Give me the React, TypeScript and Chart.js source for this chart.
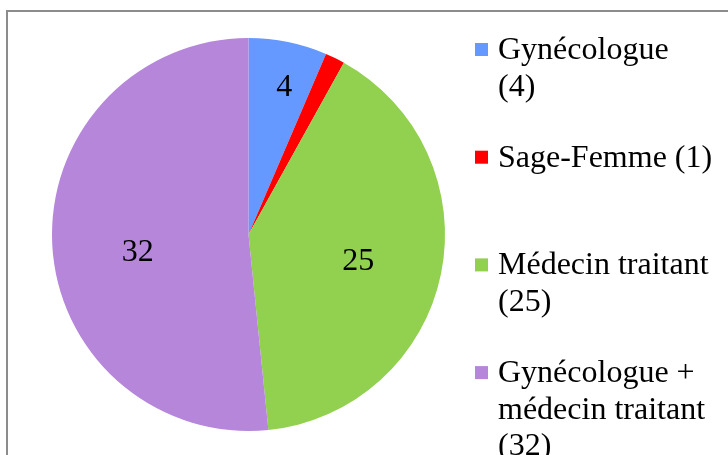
import React, { useEffect, useRef } from "react";
import { Chart, registerables } from "chart.js";

Chart.register(...registerables);

const categories = ["Gynécologue", "Sage-Femme", "Médecin traitant", "Gynécologue + médecin traitant"];
const values = [4, 1, 25, 32];
const legendLines = [
  ["Gynécologue", "(4)"],
  ["Sage-Femme (1)"],
  ["Médecin traitant", "(25)"],
  ["Gynécologue +", "médecin traitant", "(32)"],
];
const dataLabels = ["4", "", "25", "32"];

const colors = ["#6699FF", "#FF0000", "#92D050", "#B586D9"];
const labelRadiusFrac = [0.78, 0, 0.57, 0.57];
const labelNudgeX = [5, 0, 0, 1];
const labelNudgeY = [1, 0, 3, 10];
const FONT = "'Liberation Serif', 'Times New Roman', serif";

const labelPlugin = {
  id: "sliceLabels",
  afterDatasetsDraw(chart: any) {
    const ctx = chart.ctx;
    const meta = chart.getDatasetMeta(0);
    ctx.save();
    ctx.fillStyle = "#000";
    ctx.font = `32px ${FONT}`;
    ctx.textAlign = "center";
    ctx.textBaseline = "middle";
    meta.data.forEach((arc: any, i: number) => {
      const txt = dataLabels[i];
      if (!txt) return;
      const p = arc.getProps(["x", "y", "startAngle", "endAngle", "outerRadius"], true);
      const mid = (p.startAngle + p.endAngle) / 2;
      const r = p.outerRadius * labelRadiusFrac[i];
      ctx.fillText(txt, p.x + Math.cos(mid) * r + labelNudgeX[i], p.y + Math.sin(mid) * r + 2 + labelNudgeY[i]);
    });
    ctx.restore();
  },
};

const legendPlugin = {
  id: "customLegend",
  afterDraw(chart: any) {
    const ctx = chart.ctx;
    const meta = chart.getDatasetMeta(0);
    const markerX = 475;
    const markerSize = 13;
    const textX = 498;
    const firstBaseline = 59;
    const step = 107.7;
    const lineH = 36.5;
    ctx.save();
    ctx.font = `32px ${FONT}`;
    ctx.textAlign = "left";
    ctx.textBaseline = "alphabetic";
    legendLines.forEach((lines, i) => {
      const base = firstBaseline + step * i;
      ctx.fillStyle = meta.data[i].options.backgroundColor;
      ctx.fillRect(markerX, base - 16, markerSize, markerSize);
      ctx.fillStyle = "#000";
      lines.forEach((ln, j) => ctx.fillText(ln, textX, base + j * lineH));
    });
    ctx.restore();
  },
};

export default function App() {
  const ref = useRef<HTMLCanvasElement | null>(null);
  useEffect(() => {
    if (!ref.current) return;
    const chart = new Chart(ref.current, {
      type: "pie",
      data: {
        labels: categories,
        datasets: [
          {
            data: values,
            backgroundColor: colors,
            borderWidth: 0,
          },
        ],
      },
      options: {
        responsive: false,
        animation: false,
        devicePixelRatio: 1,
        layout: { padding: { left: 52, right: 283, top: 38, bottom: 24 } },
        plugins: {
          legend: { display: false },
          tooltip: { enabled: false },
          title: { display: false },
        },
      },
      plugins: [labelPlugin, legendPlugin],
    });
    return () => chart.destroy();
  }, []);

  return (
    <div style={{ position: "absolute", left: 0, top: 0, width: 728, height: 455, overflow: "hidden", background: "#fff" }}>
      <canvas ref={ref} width={728} height={455} style={{ position: "absolute", left: 0, top: 0 }} />
      <div
        style={{
          position: "absolute",
          left: 6,
          top: 10,
          width: 800,
          height: 600,
          border: "2px solid #8c8c8c",
          boxSizing: "border-box",
          pointerEvents: "none",
        }}
      />
    </div>
  );
}
